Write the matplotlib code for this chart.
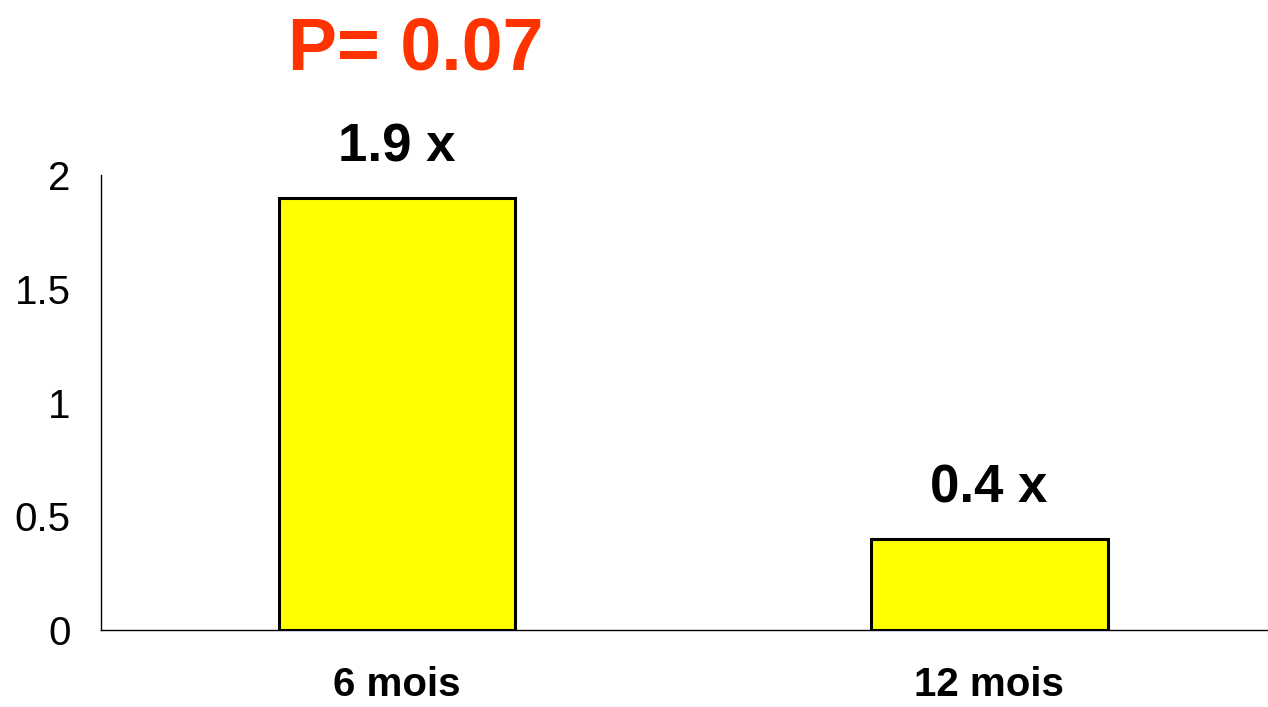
import matplotlib
matplotlib.use("Agg")
import matplotlib.pyplot as plt

# ratios at each follow-up time
categories = ["6 mois", "12 mois"]
values = [1.9, 0.4]
value_labels = ["1.9 x", "0.4 x"]
p_text = "P= 0.07"

plt.rcParams['font.family'] = ['Liberation Sans', 'DejaVu Sans']

fig = plt.figure(figsize=(12.68, 7.07), dpi=100)
ax = fig.add_axes([101 / 1268, 1 - 630 / 707, 1 - 101 / 1268, (630 - 175) / 707])

pos = range(len(categories))
ax.bar(pos, values, width=0.4, color="#FFFF00", edgecolor="black", linewidth=2.2, zorder=3)

for x, v, lab in zip(pos, values, value_labels):
    ax.annotate(lab, (x, v), xytext=(0, 26), textcoords="offset points",
                ha="center", va="baseline", fontsize=38, fontweight="bold")

ax.set_xlim(-0.5, 1.471)
ax.set_ylim(0, 2)
ax.set_yticks([0, 0.5, 1, 1.5, 2])
ax.set_yticklabels(["0", "0.5", "1", "1.5", "2"], fontsize=29)
ax.set_xticks(list(pos))
ax.set_xticklabels(categories, fontsize=29, fontweight="bold")
ax.tick_params(axis="y", length=0, pad=22)
ax.tick_params(axis="x", length=0, pad=26)

for side in ["top", "right"]:
    ax.spines[side].set_visible(False)
ax.spines["left"].set_linewidth(1.0)
ax.spines["bottom"].set_linewidth(1.0)

fig.text(416 / 1268, 1 - 70 / 707, p_text, color="#FF3300", fontsize=53,
         fontweight="bold", ha="center", va="baseline")

fig.savefig("out.png", dpi=100)
